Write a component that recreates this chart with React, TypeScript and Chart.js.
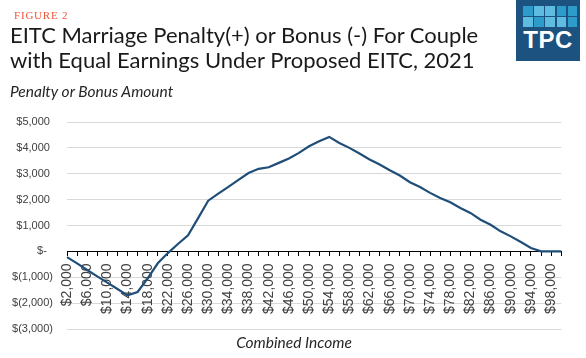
import React, { useEffect, useRef } from "react";
import { Chart, registerables } from "chart.js";

Chart.register(...registerables);

const incomes: number[] = [
  2000, 4000, 6000, 8000, 10000, 12000, 14000, 16000, 18000, 20000,
  22000, 24000, 26000, 28000, 30000, 32000, 34000, 36000, 38000, 40000,
  42000, 44000, 46000, 48000, 50000, 52000, 54000, 56000, 58000, 60000,
  62000, 64000, 66000, 68000, 70000, 72000, 74000, 76000, 78000, 80000,
  82000, 84000, 86000, 88000, 90000, 92000, 94000, 96000, 98000, 100000,
];

const penaltyBonus: number[] = [
  -220, -465, -720, -965, -1210, -1455, -1700, -1570, -1040, -460,
  -65, 285, 620, 1285, 1960, 2230, 2495, 2765, 3030, 3190,
  3250, 3420, 3590, 3805, 4060, 4255, 4425, 4190, 4000, 3780,
  3550, 3355, 3135, 2930, 2670, 2490, 2260, 2060, 1895, 1675,
  1485, 1225, 1030, 775, 580, 360, 130, 0, 0, 0,
];

const yMin = -3000;
const yMax = 5000;
const yStep = 1000;

const fmtMoney = (v: number) => "$" + Math.abs(v).toLocaleString("en-US");
const yLabel = (v: number) => {
  if (v === 0) return "$-  ";
  if (v < 0) return "$(" + Math.abs(v).toLocaleString("en-US") + ")";
  return fmtMoney(v) + " ";
};

function TPCLogo() {
  const colors = ["#2E9CCB", "#5DBCDF", "#5DBCDF", "#2E9CCB", "#2E9CCB", "#5DBCDF", "#2E9CCB", "#5DBCDF", "#5DBCDF", "#2E9CCB"];
  return (
    <div style={{ position: "absolute", left: 516, top: 0, width: 64, height: 61, background: "#1B5280" }}>
      {colors.map((c, i) => (
        <div
          key={i}
          style={{
            position: "absolute",
            left: 7 + (i % 5) * 11.2,
            top: 6 + Math.floor(i / 5) * 11.3,
            width: 9.5,
            height: 9.5,
            background: c,
          }}
        />
      ))}
      <div
        style={{
          position: "absolute",
          left: 0,
          width: 64,
          top: 28,
          textAlign: "center",
          color: "#fff",
          font: "bold 24px 'Liberation Sans', Arial, sans-serif",
          letterSpacing: 0.5,
          lineHeight: "24px",
        }}
      >
        TPC
      </div>
    </div>
  );
}

export default function App() {
  const ref = useRef<HTMLCanvasElement | null>(null);

  useEffect(() => {
    if (!ref.current) return;
    const chart = new Chart(ref.current, {
      type: "line",
      data: {
        labels: incomes.map(fmtMoney),
        datasets: [
          {
            data: penaltyBonus,
            borderColor: "#1F4E79",
            borderWidth: 2.2,
            pointRadius: 0,
            tension: 0,
            fill: false,
          },
        ],
      },
      options: {
        animation: false,
        responsive: false,
        maintainAspectRatio: false,
        layout: { padding: { top: 122, bottom: 29, left: 0, right: 8 } },
        plugins: { legend: { display: false }, tooltip: { enabled: false }, title: { display: false } },
        scales: {
          x: {
            type: "category",
            position: { y: 0 } as any,
            offset: false,
            grid: {
              display: true,
              drawOnChartArea: false,
              drawTicks: true,
              tickLength: 4,
              color: "#000",
            },
            border: { display: true, color: "#000", width: 1 },
            ticks: {
              autoSkip: false,
              maxRotation: 90,
              minRotation: 90,
              padding: 8,
              color: "#404040",
              font: { family: "'Liberation Sans', Arial, sans-serif", size: 14 },
              callback: (_v: any, i: number) => (i % 2 === 0 ? fmtMoney(incomes[i]) : ""),
            },
            afterFit: (s: any) => {
              s.height = 0;
            },
          },
          y: {
            min: yMin,
            max: yMax,
            grid: { color: "#D9D9D9", lineWidth: 1, drawTicks: false },
            border: { display: false },
            ticks: {
              stepSize: yStep,
              padding: 14,
              color: "#404040",
              font: { family: "'Liberation Sans', Arial, sans-serif", size: 11 },
              callback: (v: any) => yLabel(Number(v)),
            },
            afterFit: (s: any) => {
              s.width = 67;
            },
          },
        },
      },
    });
    return () => chart.destroy();
  }, []);

  return (
    <div style={{ position: "fixed", left: 0, top: 0, width: 586, height: 358, background: "#fff", overflow: "hidden" }}>
      <canvas ref={ref} width={586} height={358} style={{ position: "absolute", left: 0, top: 0, width: 586, height: 358 }} />
      <div
        style={{
          position: "absolute",
          left: 14,
          top: 9,
          color: "#F0553A",
          font: "11px 'Liberation Serif', 'DejaVu Serif', serif",
          letterSpacing: 0.8,
          lineHeight: "13px",
        }}
      >
        FIGURE 2
      </div>
      <div
        style={{
          position: "absolute",
          left: 10,
          top: 22,
          color: "#1a1a1a",
          font: "22px Lato, 'Noto Sans', sans-serif",
          lineHeight: "25px",
          whiteSpace: "nowrap",
        }}
      >
        EITC Marriage Penalty(+) or Bonus (-) For Couple
        <br />
        with Equal Earnings Under Proposed EITC, 2021
      </div>
      <div
        style={{
          position: "absolute",
          left: 10,
          top: 83,
          color: "#262626",
          font: "italic 15.5px Lato, 'Noto Sans', sans-serif",
          lineHeight: "16px",
          whiteSpace: "nowrap",
        }}
      >
        Penalty or Bonus Amount
      </div>
      <div
        style={{
          position: "absolute",
          left: 0,
          width: 586,
          paddingLeft: 2,
          boxSizing: "border-box",
          top: 334,
          textAlign: "center",
          color: "#262626",
          font: "italic 15.5px Lato, 'Noto Sans', sans-serif",
          lineHeight: "16px",
        }}
      >
        Combined Income
      </div>
      <TPCLogo />
    </div>
  );
}
